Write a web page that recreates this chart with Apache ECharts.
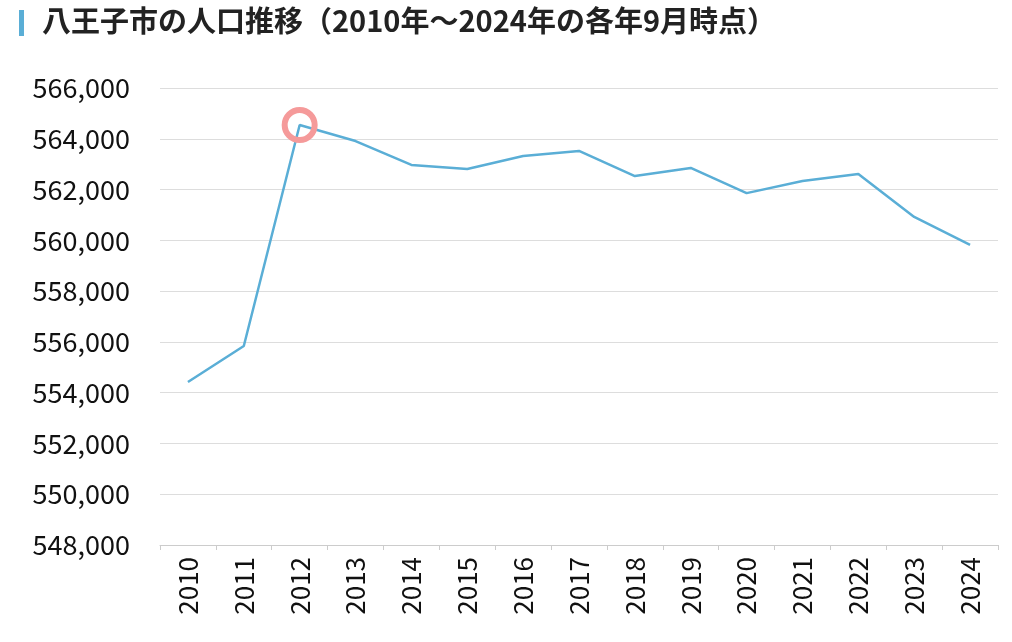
<!DOCTYPE html>
<html>
<head>
<meta charset="utf-8">
<script src="https://cdn.jsdelivr.net/npm/echarts@6/dist/echarts.min.js"></script>
<style>
html, body { margin: 0; padding: 0; background: #fff; }
#main { width: 1012px; height: 642px; }
</style>
</head>
<body>
<div id="main"></div>
<script>
var years = ['2010', '2011', '2012', '2013', '2014', '2015', '2016', '2017', '2018', '2019', '2020', '2021', '2022', '2023', '2024'];
var population = [554420, 555840, 564540, 563910, 562970, 562810, 563320, 563520, 562530, 562850, 561860, 562340, 562610, 560920, 559820];
var peakIndex = 2;

var myChart = echarts.init(document.getElementById('main'));
var seriesData = population.map(function (v, i) {
    if (i === peakIndex) {
        return {
            value: v,
            symbol: 'circle',
            symbolSize: 30,
            itemStyle: { color: 'transparent', borderColor: '#f59a9a', borderWidth: 6 }
        };
    }
    return { value: v, symbol: 'none' };
});

var option = {
    animation: false,
    graphic: [
        { type: 'rect', left: 19, top: 10, shape: { width: 5, height: 26 }, style: { fill: '#5aaed6' } },
        { type: 'text', left: 42, top: 6, style: { text: '八王子市の人口推移（2010年～2024年の各年9月時点）', font: 'bold 29px "Noto Sans CJK JP"', fill: '#222' } }
    ],
    grid: { left: 160, right: 14, top: 88, bottom: 97 },
    xAxis: {
        type: 'category',
        data: years,
        boundaryGap: true,
        axisLine: { lineStyle: { color: '#ccc' } },
        axisTick: { show: true, lineStyle: { color: '#ccc' } },
        axisLabel: { rotate: 90, color: '#111', fontSize: 26, fontFamily: 'Noto Sans CJK JP', margin: 12 }
    },
    yAxis: {
        type: 'value',
        min: 548000,
        max: 566000,
        interval: 2000,
        axisLine: { show: false },
        axisTick: { show: false },
        splitLine: { lineStyle: { color: '#ddd' } },
        axisLabel: {
            color: '#111', fontSize: 27, fontFamily: 'Noto Sans CJK JP', margin: 30,
            formatter: function (v) { return v.toLocaleString('en-US'); }
        }
    },
    series: [{
        type: 'line',
        data: seriesData,
        lineStyle: { color: '#5aaed6', width: 2.5 },
        itemStyle: { color: '#5aaed6' }
    }]
};
myChart.setOption(option);
</script>
</body>
</html>
